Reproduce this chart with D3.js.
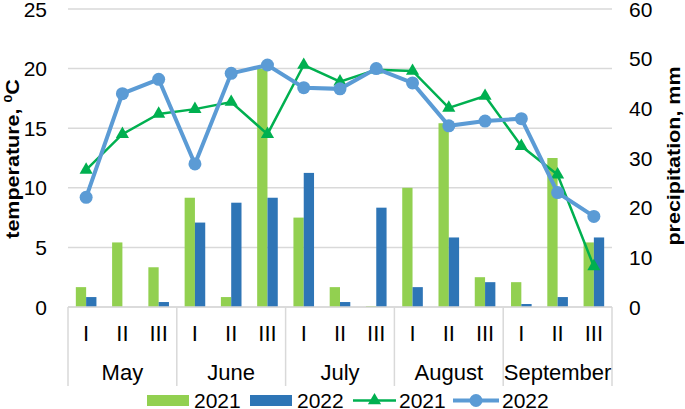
<!DOCTYPE html>
<html>
<head>
<meta charset="utf-8">
<script src="https://cdn.jsdelivr.net/npm/d3@7"></script>
<style>
  body { margin: 0; background: #fff; }
  svg { font-family: 'Liberation Sans', Arial, sans-serif; }
</style>
</head>
<body>
<svg id="chart" width="685" height="409"></svg>
<script>
const months = ['May', 'June', 'July', 'August', 'September'];
const decades = ['I', 'II', 'III'];

// precipitation, mm (bars, right axis)
const precip2021 = [4, 13, 8, 22, 2, 48, 18, 4, 0.2, 24, 37, 6, 5, 30, 13];
const precip2022 = [2, 0, 1, 17, 21, 22, 27, 1, 20, 4, 14, 5, 0.6, 2, 14];

// temperature, C (lines, left axis)
const temp2021 = [11.5, 14.5, 16.2, 16.6, 17.2, 14.5, 20.3, 18.9, 19.9, 19.8, 16.7, 17.7, 13.5, 11.1, 3.4];
const temp2022 = [9.2, 17.9, 19.1, 12.0, 19.6, 20.3, 18.4, 18.3, 20.0, 18.8, 15.2, 15.6, 15.8, 9.6, 7.6];

const leftTicks = [0, 5, 10, 15, 20, 25];
const rightTicks = [0, 10, 20, 30, 40, 50, 60];

const GREEN_BAR = '#92d050';
const BLUE_BAR = '#2e75b6';
const GREEN_LINE = '#00b050';
const BLUE_LINE = '#5b9bd5';
const GRID = '#d9d9d9';

const margin = { left: 68, right: 612, top: 9, bottom: 307 };

const svg = d3.select('#chart');

const slots = months.flatMap((m) => decades.map((d) => `${m}-${d}`));

const x = d3.scaleBand().domain(slots).range([margin.left, margin.right]);
const xMonth = d3.scaleBand().domain(months).range([margin.left, margin.right]);
const yTemp = d3.scaleLinear().domain([0, 25]).range([margin.bottom, margin.top]);
const yPrec = d3.scaleLinear().domain([0, 60]).range([margin.bottom, margin.top]);

const barW = 10.3;
const xYear = d3.scaleBand().domain(['2021', '2022']).range([-barW, barW]);

// grid
svg.append('g')
  .selectAll('line')
  .data(leftTicks)
  .join('line')
  .attr('x1', margin.left)
  .attr('x2', margin.right)
  .attr('y1', (d) => yTemp(d))
  .attr('y2', (d) => yTemp(d))
  .attr('stroke', GRID)
  .attr('stroke-width', 1.5);

// left axis labels
svg.append('g')
  .selectAll('text')
  .data(leftTicks)
  .join('text')
  .attr('x', 47)
  .attr('y', (d) => yTemp(d))
  .attr('dy', '0.36em')
  .attr('text-anchor', 'end')
  .style('font-size', '21px')
  .attr('fill', '#000')
  .text((d) => d);

// right axis labels
svg.append('g')
  .selectAll('text')
  .data(rightTicks)
  .join('text')
  .attr('x', 629)
  .attr('y', (d) => yPrec(d))
  .attr('dy', '0.36em')
  .attr('text-anchor', 'start')
  .style('font-size', '21px')
  .attr('fill', '#000')
  .text((d) => d);

// axis titles (glyphs a bit squashed across the line, as in the source image)
const leftTitle = svg.append('text')
  .attr('transform', `translate(18.5, 159) rotate(-90) scale(1, 0.82)`)
  .attr('text-anchor', 'middle')
  .style('font-size', '21.5px')
  .style('font-weight', 'bold');
leftTitle.append('tspan').text('temperature, ');
leftTitle.append('tspan').attr('dy', -8).style('font-size', '14px').text('0');
leftTitle.append('tspan').attr('dy', 8).text('C');

svg.append('text')
  .attr('transform', `translate(680, 156) rotate(-90) scale(1, 0.82)`)
  .attr('text-anchor', 'middle')
  .style('font-size', '21.5px')
  .style('font-weight', 'bold')
  .text('precipitation, mm');

// bars
const barData = slots.flatMap((s, i) => [
  { slot: s, year: '2021', v: precip2021[i], color: GREEN_BAR },
  { slot: s, year: '2022', v: precip2022[i], color: BLUE_BAR },
]);

svg.append('g')
  .selectAll('rect')
  .data(barData)
  .join('rect')
  .attr('x', (d) => x(d.slot) + x.bandwidth() / 2 + xYear(d.year))
  .attr('y', (d) => yPrec(d.v))
  .attr('width', xYear.bandwidth())
  .attr('height', (d) => yPrec(0) - yPrec(d.v))
  .attr('fill', (d) => d.color);

// category axis
const sepX = months.map((m) => xMonth(m)).concat([margin.right]);
svg.append('g')
  .selectAll('line')
  .data(sepX)
  .join('line')
  .attr('x1', (d) => d)
  .attr('x2', (d) => d)
  .attr('y1', margin.bottom)
  .attr('y2', 386)
  .attr('stroke', GRID)
  .attr('stroke-width', 1.5);

svg.append('line')
  .attr('x1', margin.left)
  .attr('x2', margin.right)
  .attr('y1', margin.bottom)
  .attr('y2', margin.bottom)
  .attr('stroke', GRID)
  .attr('stroke-width', 1.5);

svg.append('g')
  .selectAll('text')
  .data(slots)
  .join('text')
  .attr('x', (d) => x(d) + x.bandwidth() / 2)
  .attr('y', 333)
  .attr('dy', '0.36em')
  .attr('text-anchor', 'middle')
  .style('font-size', '22px')
  .text((d) => d.split('-')[1]);

svg.append('g')
  .selectAll('text')
  .data(months)
  .join('text')
  .attr('x', (d) => xMonth(d) + xMonth.bandwidth() / 2)
  .attr('y', 372.5)
  .attr('dy', '0.36em')
  .attr('text-anchor', 'middle')
  .style('font-size', '22px')
  .text((d) => d);

// lines
const line = (vals) =>
  d3.line()
    .x((d, i) => x(slots[i]) + x.bandwidth() / 2)
    .y((d) => yTemp(d))(vals);

svg.append('path')
  .attr('d', line(temp2021))
  .attr('fill', 'none')
  .attr('stroke', GREEN_LINE)
  .attr('stroke-width', 2.5);

svg.append('g')
  .selectAll('path')
  .data(temp2021)
  .join('path')
  .attr('transform', (d, i) => `translate(${x(slots[i]) + x.bandwidth() / 2}, ${yTemp(d)})`)
  .attr('d', d3.symbol(d3.symbolTriangle, 75))
  .attr('fill', GREEN_LINE);

svg.append('path')
  .attr('d', line(temp2022))
  .attr('fill', 'none')
  .attr('stroke', BLUE_LINE)
  .attr('stroke-width', 4);

svg.append('g')
  .selectAll('circle')
  .data(temp2022)
  .join('circle')
  .attr('cx', (d, i) => x(slots[i]) + x.bandwidth() / 2)
  .attr('cy', (d) => yTemp(d))
  .attr('r', 6.5)
  .attr('fill', BLUE_LINE);

// legend
const legend = svg.append('g').style('font-size', '21px');
const ly = 400.5;
legend.append('rect').attr('x', 147).attr('y', ly - 5.5).attr('width', 42).attr('height', 11).attr('fill', GREEN_BAR);
legend.append('text').attr('x', 194).attr('y', ly).attr('dy', '0.36em').text('2021');
legend.append('rect').attr('x', 250).attr('y', ly - 5.5).attr('width', 42).attr('height', 11).attr('fill', BLUE_BAR);
legend.append('text').attr('x', 297).attr('y', ly).attr('dy', '0.36em').text('2022');
legend.append('line').attr('x1', 353).attr('x2', 396).attr('y1', ly).attr('y2', ly)
  .attr('stroke', GREEN_LINE).attr('stroke-width', 2.5);
legend.append('path').attr('transform', `translate(374.5, ${ly})`)
  .attr('d', d3.symbol(d3.symbolTriangle, 75)).attr('fill', GREEN_LINE);
legend.append('text').attr('x', 399).attr('y', ly).attr('dy', '0.36em').text('2021');
legend.append('line').attr('x1', 453).attr('x2', 499).attr('y1', ly).attr('y2', ly)
  .attr('stroke', BLUE_LINE).attr('stroke-width', 4);
legend.append('circle').attr('cx', 476).attr('cy', ly).attr('r', 6.5).attr('fill', BLUE_LINE);
legend.append('text').attr('x', 502).attr('y', ly).attr('dy', '0.36em').text('2022');
</script>
</body>
</html>
